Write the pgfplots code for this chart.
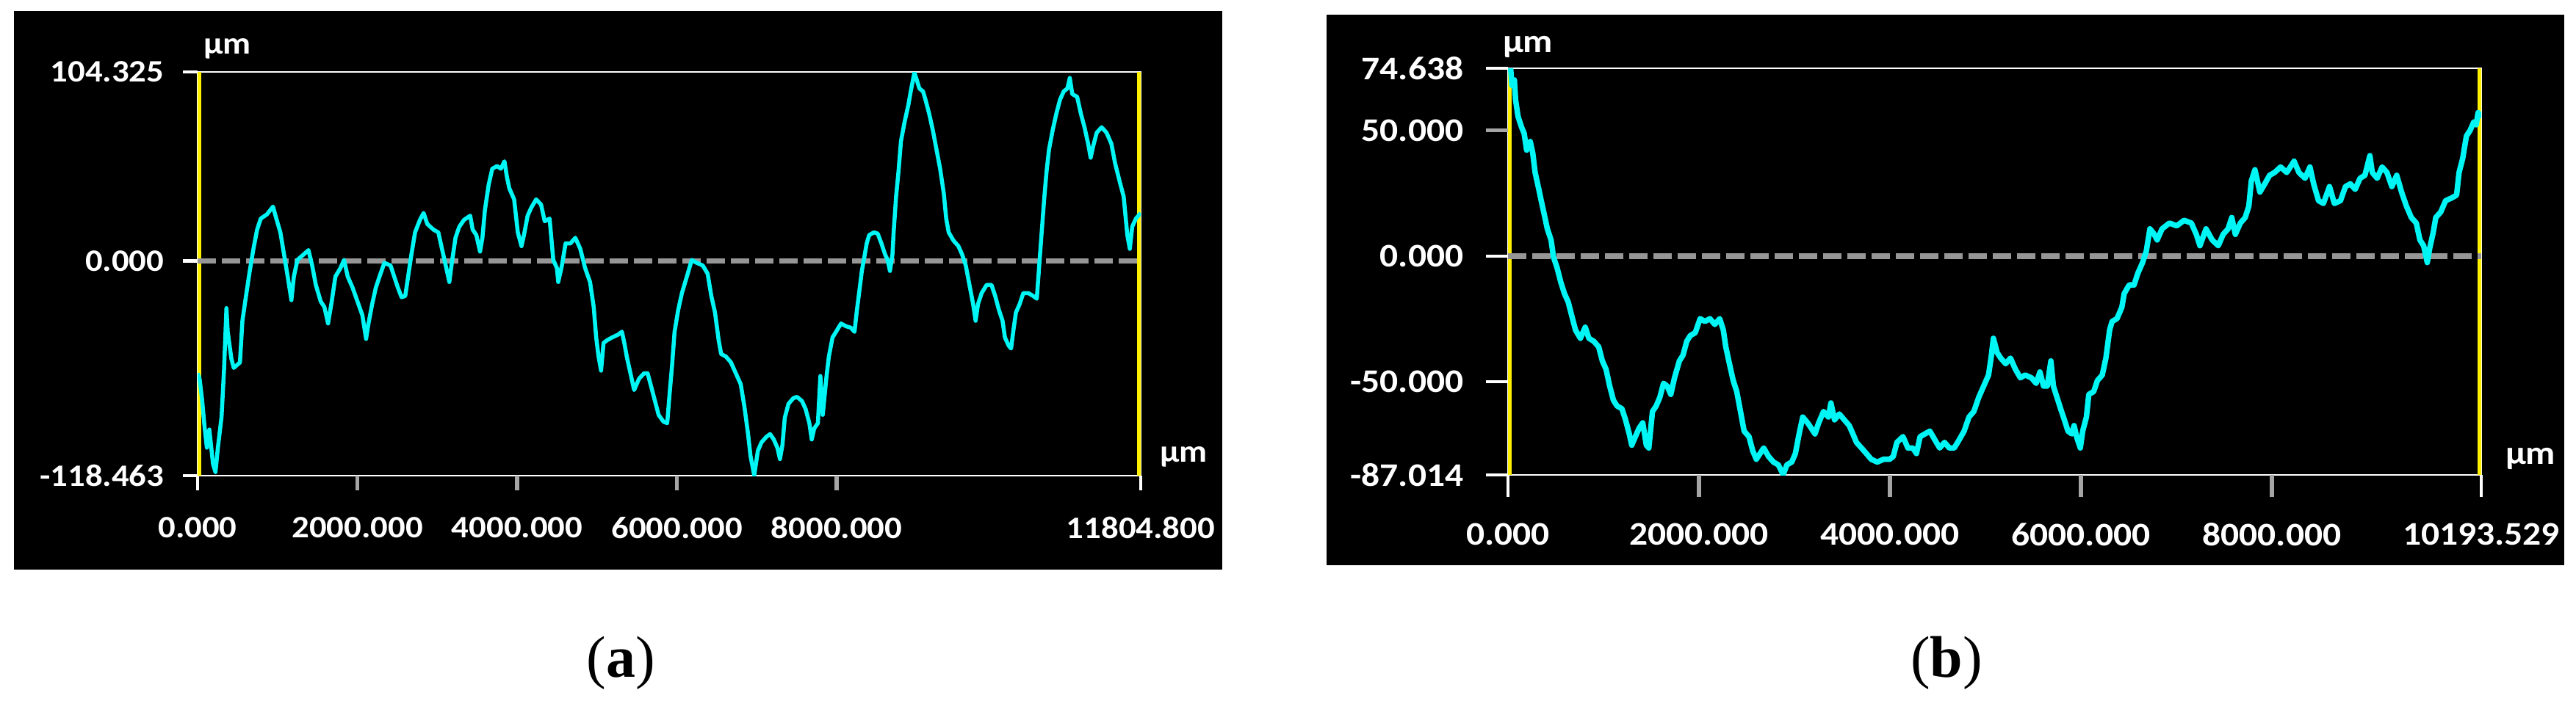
\documentclass[border=0pt]{standalone}
\usepackage{pgfplots}
\pgfplotsset{compat=1.18}
\usepackage{fontspec}
\setmainfont{Liberation Serif}
\newfontfamily\tickfont[FakeStretch=1.1]{Carlito}
\definecolor{profcyan}{RGB}{0,245,245}
\definecolor{zerogray}{RGB}{150,150,150}
\definecolor{midtick}{RGB}{165,165,165}
\definecolor{scryellow}{RGB}{255,240,0}
\begin{document}
\begin{tikzpicture}
\path[use as bounding box, fill=white] (0,0) rectangle (701.4pt,190.8pt);
\fill[black] (3.8pt,35.6pt) rectangle (332.8pt,187.8pt);
\fill[black] (361.2pt,36.8pt) rectangle (698.2pt,186.8pt);

\pgfplotsset{profile/.style={
  scale only axis, anchor=south west,
  axis line style={white, line width=0.5pt},
  tick align=outside,
  xtick pos=bottom, ytick pos=left,
  tick style={white, line width=0.9pt},
  minor tick num=0,
  scaled ticks=false,
  ticklabel style={white, font=\tickfont\bfseries\fontsize{8.5}{10}\selectfont},
  extra tick style={tick style={midtick, line width=1.1pt}},
}}

% ---------------- panel (a)
\begin{axis}[profile, name=A,
  at={(53.8pt,61.2pt)}, width=256.8pt, height=110pt,
  xmin=0, xmax=11804.8, ymin=-118.463, ymax=104.325,
  major tick length=4pt,
  xtick={0,11804.8}, xticklabels={0.000,11804.800},
  extra x ticks={2000,4000,6000,8000},
  extra x tick labels={2000.000,4000.000,6000.000,8000.000},
  ytick={-118.463,0,104.325}, yticklabels={-118.463,0.000,104.325},
  xticklabel style={yshift=-3.7pt},
  yticklabel style={xshift=-1.6pt},
]
\addplot[scryellow, line width=2pt] coordinates {(0,-118.463) (0,104.325)};
\addplot[scryellow, line width=2pt] coordinates {(11804.8,-118.463) (11804.8,104.325)};
\addplot[zerogray, line width=1.5pt, dash pattern=on 5pt off 1.6pt] coordinates {(0,0) (11804.8,0)};
\addplot[profcyan, line width=1.1pt, line join=round] coordinates {
(0,-62) (25,-65) (55,-76) (86,-91) (116,-103) (147,-93) (193,-112) (224,-116.5) (254,-103)
(300,-86) (331,-60) (361,-26) (377,-39) (423,-54) (453,-59) (530,-56) (561,-33) (607,-19)
(653,-5.5) (699,6.7) (745,17.3) (791,23.4) (867,25.7) (944,30) (975,25) (1036,15.8) (1082,3.6)
(1128,-8.6) (1174,-21.6) (1205,-8.6) (1250,0.6) (1327,3.6) (1388,6) (1434,-2.5) (1480,-13.2)
(1541,-22.3) (1587,-25.4) (1633,-34.5) (1679,-22.3) (1725,-8.6) (1787,-4) (1833,0.6) (1879,-8.6)
(1940,-14.7) (2001,-22.3) (2063,-30) (2109,-43) (2139,-34.5) (2185,-23.8) (2231,-14.7) (2277,-8.6)
(2338,-1) (2415,-2.5) (2461,-8.6) (2507,-14.7) (2553,-20) (2599,-19.3) (2630,-10.1) (2676,3.6)
(2722,15.8) (2783,22.7) (2829,26.5) (2875,20.4) (2952,17.3) (3013,15.8) (3059,6.7) (3121,-5.5)
(3151,-11.6) (3182,-1) (3228,12.8) (3274,18.8) (3335,22.7) (3412,25) (3443,17.3) (3489,14.3)
(3535,5.2) (3565,12.8) (3596,28) (3642,41.8) (3688,50.9) (3749,52.4) (3795,50.9) (3841,55)
(3872,46.3) (3901,40.2) (3962,34) (4008,15.8) (4054,8.2) (4085,14.3) (4131,25) (4177,29.5)
(4238,34) (4299,31.1) (4345,21.9) (4406,23.4) (4452,0.6) (4498,-4) (4514,-11.6) (4560,-2.5)
(4606,9.7) (4667,9.7) (4728,12.8) (4790,6.7) (4851,-4) (4912,-11.6) (4958,-25.4) (4989,-42.2)
(5019,-52.8) (5050,-60.5) (5081,-45.2) (5127,-43.7) (5188,-42.2) (5265,-40.6) (5311,-39)
(5341,-45.2) (5372,-52.8) (5418,-62) (5464,-71.2) (5525,-65) (5587,-62) (5633,-62) (5679,-69.6)
(5725,-77.3) (5771,-85) (5832,-88.7) (5878,-89.5) (5909,-72.7) (5939,-57.5) (5970,-39.1)
(6016,-26.9) (6062,-17.7) (6124,-8.6) (6185,0.6) (6246,-1) (6323,-2.5) (6384,-7) (6430,-19.3)
(6476,-28.4) (6522,-43.7) (6553,-51.3) (6614,-52.8) (6675,-55.9) (6737,-62) (6798,-68)
(6844,-80.3) (6890,-95.5) (6921,-107.7) (6967,-118.3) (7013,-104.7) (7059,-100) (7120,-97)
(7166,-95.5) (7212,-98.5) (7258,-103.2) (7289,-109.3) (7320,-101.6) (7350,-86.4) (7396,-78.8)
(7457,-75.7) (7503,-75) (7565,-77.3) (7611,-81.8) (7657,-89.5) (7687,-98.5) (7718,-92.4)
(7764,-89.5) (7795,-63.5) (7825,-84.9) (7871,-64) (7901,-52.8) (7947,-42.2) (7992,-39)
(8054,-34.5) (8115,-36) (8176,-36.8) (8222,-39.1) (8253,-26.9) (8284,-16.2) (8314,-5.5)
(8345,2.1) (8375,9.7) (8406,14.3) (8467,15.8) (8513,15.1) (8559,9.7) (8605,3.6) (8636,0.6)
(8666,-5.5) (8697,3.6) (8712,15.8) (8743,35.7) (8773,49.4) (8804,66.2) (8850,76.9) (8896,86)
(8926,93.6) (8972,104) (9003,99.7) (9034,95.2) (9080,93.6) (9110,89.1) (9156,81.4) (9202,72.3)
(9248,61.6) (9294,50.9) (9340,37.2) (9370,23.4) (9401,15.8) (9462,11.2) (9523,8.2) (9569,3.6)
(9615,-2.5) (9661,-13.2) (9707,-23.8) (9738,-33) (9768,-23.8) (9814,-17.7) (9876,-13.2)
(9937,-13.2) (9983,-19.3) (10029,-26.9) (10075,-33) (10105,-42.2) (10151,-46.7) (10182,-48.3)
(10213,-37.6) (10243,-28.4) (10289,-23.8) (10335,-17.7) (10397,-17.7) (10458,-19.3)
(10504,-20.8) (10534,-2.5) (10565,15.8) (10596,34.1) (10626,49.4) (10657,61.6) (10703,72.3)
(10749,81.4) (10795,89.1) (10841,93.6) (10887,95.2) (10917,101) (10948,92.1) (11009,90.6)
(11055,81.4) (11101,73.8) (11147,64.6) (11178,57) (11208,63.1) (11254,70.8) (11315,73.8)
(11377,70.8) (11438,64.6) (11484,53.9) (11545,43.2) (11591,35.6) (11637,14.3) (11668,6.7)
(11698,18.9) (11744,23.4) (11804.8,26.5)
};
\end{axis}
\node[white, anchor=base west, inner sep=0pt, font=\tickfont\bfseries\fontsize{8.5}{10}\selectfont]
  at ([xshift=1.4pt,yshift=5pt]A.north west) {µm};
\node[white, anchor=base west, inner sep=0pt, font=\tickfont\bfseries\fontsize{8.5}{10}\selectfont]
  at ([xshift=5pt,yshift=3.8pt]A.south east) {µm};

% ---------------- panel (b)
\begin{axis}[profile, name=B,
  at={(410.6pt,61.4pt)}, width=265pt, height=110.8pt,
  xmin=0, xmax=10193.529, ymin=-87.014, ymax=74.638,
  major tick length=6pt,
  ticklabel style={font=\tickfont\bfseries\fontsize{9}{10}\selectfont},
  xtick={0,10193.529}, xticklabels={0.000,10193.529},
  extra x ticks={2000,4000,6000,8000},
  extra x tick labels={2000.000,4000.000,6000.000,8000.000},
  ytick={-87.014,-50,0,74.638}, yticklabels={-87.014,-50.000,0.000,74.638},
  extra y ticks={50}, extra y tick labels={50.000},
  xticklabel style={yshift=-3.6pt},
  yticklabel style={xshift=-2.6pt},
]
\addplot[scryellow, line width=2pt] coordinates {(0,-87.014) (0,74.638)};
\addplot[scryellow, line width=2pt] coordinates {(10193.529,-87.014) (10193.529,74.638)};
\addplot[zerogray, line width=1.5pt, dash pattern=on 5pt off 1.6pt] coordinates {(0,0) (10193.529,0)};
\addplot[profcyan, line width=1.5pt, line join=round] coordinates {
(0,74.6) (28,74.5) (41,67.8) (67,70) (79,62.2) (105,55.5) (143,51.1) (169,48.8) (195,42.1)
(233,45.5) (259,41) (284,33.2) (323,26.5) (348,22) (374,17.5) (412,10.8) (451,6.4) (476,-0.3)
(515,-4.8) (553,-10.4) (591,-14.9) (630,-18.2) (668,-23.8) (707,-29.4) (758,-32.7) (809,-28.3)
(847,-32.7) (899,-33.9) (950,-36.1) (988,-41.7) (1027,-45) (1065,-51.7) (1104,-57.3)
(1142,-59.6) (1193,-60.7) (1231,-65.1) (1270,-70.7) (1296,-75.2) (1334,-71.8) (1372,-68.5)
(1411,-66.3) (1449,-75.2) (1475,-76.3) (1513,-61.8) (1552,-59.6) (1590,-56.2) (1629,-50.6)
(1667,-51.7) (1705,-55) (1744,-48.4) (1795,-41.7) (1833,-39.4) (1872,-33.9) (1910,-31.6)
(1961,-30.5) (2012,-24.9) (2063,-26) (2115,-24.9) (2166,-27.2) (2217,-24.9) (2255,-29.4)
(2281,-36.1) (2319,-42.8) (2358,-49.4) (2396,-53.9) (2435,-61.8) (2473,-69.6) (2524,-71.8)
(2563,-77.4) (2601,-80.8) (2640,-78.5) (2678,-76.3) (2729,-79.7) (2780,-81.9) (2831,-83)
(2882,-86.9) (2921,-83) (2972,-81.9) (3010,-78.5) (3049,-70.7) (3087,-64) (3138,-66.3)
(3177,-68.5) (3215,-70.7) (3254,-66.3) (3305,-61.8) (3356,-64) (3382,-58.4) (3420,-65.1)
(3470,-62.8) (3522,-65.1) (3574,-67.4) (3612,-70.7) (3650,-74.1) (3702,-76.3) (3753,-78.5)
(3804,-80.8) (3868,-81.9) (3932,-80.8) (3996,-80.8) (4035,-79.7) (4073,-74.1) (4137,-71.8)
(4188,-76.3) (4239,-76.3) (4278,-78.5) (4316,-71.8) (4367,-70.7) (4418,-69.6) (4470,-73)
(4521,-76.3) (4572,-74.1) (4623,-76.3) (4674,-76.3) (4726,-73) (4777,-69.6) (4828,-64)
(4879,-61.8) (4930,-56.2) (4982,-51.7) (5033,-47.3) (5059,-40.6) (5084,-32.7) (5122,-38.3)
(5161,-40.6) (5212,-42.8) (5263,-40.6) (5314,-45) (5366,-48.4) (5417,-47.3) (5481,-48.4)
(5532,-50.6) (5571,-46.1) (5609,-51.7) (5648,-51.7) (5686,-41.7) (5712,-51.7) (5750,-56.2)
(5788,-60.7) (5827,-65.1) (5865,-69.6) (5904,-70.7) (5929,-67.4) (5955,-71.8) (5994,-76.3)
(6019,-69.6) (6058,-64) (6083,-55) (6134,-53.9) (6173,-49.5) (6224,-47.3) (6262,-40.6)
(6301,-29.4) (6327,-26) (6378,-24.9) (6429,-20.4) (6454,-14.9) (6506,-11.5) (6557,-11.5)
(6595,-7) (6646,-2.6) (6685,1.9) (6723,10.8) (6762,9) (6799,6.4) (6850,10.8) (6927,13.1)
(7004,12) (7081,14.2) (7157,13.1) (7209,8.6) (7247,4.1) (7311,10.8) (7375,6.4) (7439,4.1)
(7490,8.6) (7542,10.8) (7580,15.3) (7618,8.6) (7670,13.1) (7721,15.3) (7759,19.8) (7785,29.8)
(7823,34.3) (7875,25.4) (7926,28.7) (7977,32.1) (8028,33.2) (8092,35.4) (8156,33.2) (8233,37.7)
(8284,33.2) (8348,30.9) (8399,35.4) (8438,28.7) (8489,22) (8540,20.9) (8604,27.6) (8655,20.9)
(8719,22) (8771,27.6) (8822,28.7) (8873,26.5) (8924,30.9) (8975,32.1) (9027,39.9) (9052,33.2)
(9103,30.9) (9155,35.4) (9206,33.2) (9257,27.6) (9308,32.1) (9359,25.4) (9410,19.8) (9461,15.3)
(9513,13.1) (9551,6.4) (9590,4.1) (9628,-2.6) (9653,3) (9692,9.7) (9717,15.3) (9769,17.5)
(9820,22) (9884,23.1) (9935,24.2) (9961,33.2) (9999,38.8) (10038,47.7) (10076,49.9)
(10115,53.3) (10141,52.2) (10160,57) (10193.529,55)
};
\end{axis}
\node[white, anchor=base west, inner sep=0pt, font=\tickfont\bfseries\fontsize{9}{10}\selectfont]
  at ([xshift=-1.6pt,yshift=4.4pt]B.north west) {µm};
\node[white, anchor=base west, inner sep=0pt, font=\tickfont\bfseries\fontsize{9}{10}\selectfont]
  at ([xshift=6.4pt,yshift=3pt]B.south east) {µm};

% captions
\node[font=\fontsize{16}{18}\selectfont, inner sep=0pt] at (169pt,10.2pt) {(\textbf{a})};
\node[font=\fontsize{16}{18}\selectfont, inner sep=0pt] at (530pt,10.2pt) {(\textbf{b})};
\end{tikzpicture}
\end{document}
